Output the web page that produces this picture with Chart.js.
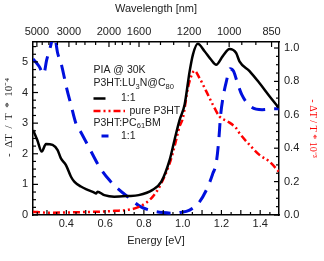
<!DOCTYPE html>
<html><head><meta charset="utf-8">
<script src="https://cdn.jsdelivr.net/npm/chart.js@4"></script>
<style>html,body{margin:0;padding:0;background:#fff;overflow:hidden}#wrap{width:324px;height:261px;position:relative}</style>
</head><body><div id="wrap"><canvas id="c" width="324" height="261"></canvas></div>
<script>
// ---- data ----
const energyTicks = [0.4, 0.6, 0.8, 1.0, 1.2, 1.4];
const leftTicks = [0, 1, 2, 3, 4, 5];
const rightTicks = [0, 0.2, 0.4, 0.6, 0.8, 1.0];
const wavelengthLabels = [5000, 3000, 2000, 1600, 1200, 1000, 850];
const wavelengthMinor = [4500, 4000, 3500, 2750, 2500, 2250, 1900, 1800, 1700, 1500, 1400, 1300, 1100, 950, 900];

const blackE = [0.228,0.25,0.273,0.295,0.329,0.355,0.372,0.398,0.424,0.441,0.475,0.51,0.544,0.553,0.561,0.596,0.647,0.716,0.773,0.845,0.89,0.933,0.958,0.984,1.010,1.036,1.053,1.078,1.113,1.147,1.173,1.207,1.242,1.276,1.293,1.345,1.396,1.448,1.496];
const blackV = [2.78,2.45,2.07,2.32,2.29,2.12,1.85,1.63,1.25,1.09,0.93,0.82,0.73,0.70,0.76,0.65,0.60,0.62,0.65,0.82,1.09,1.80,2.45,3.10,3.60,4.69,5.24,5.59,5.35,5.07,4.91,5.19,5.42,5.29,5.02,4.70,4.31,3.88,3.50];

const redE = [0.228,0.3,0.4,0.5,0.572,0.65,0.711,0.778,0.846,0.890,0.933,0.958,0.984,1.001,1.027,1.044,1.061,1.087,1.122,1.156,1.190,1.233,1.276,1.293,1.345,1.396,1.448,1.496];
const redV = [0.02,0.014,0.015,0.018,0.02,0.025,0.03,0.05,0.11,0.19,0.31,0.41,0.53,0.58,0.76,0.83,0.864,0.82,0.74,0.66,0.59,0.56,0.52,0.49,0.42,0.36,0.32,0.26];

const blueE = [0.228,0.26,0.283,0.298,0.318,0.337,0.355,0.372,0.39,0.403,0.424,0.449,0.475,0.519,0.57,0.622,0.664,0.726,0.778,0.829,0.898,0.95,0.984,1.036,1.087,1.13,1.156,1.173,1.187,1.195,1.21,1.225,1.245,1.262,1.28,1.305,1.35,1.41,1.47,1.496];
const blueV = [5.1,4.85,4.6,5.05,5.5,5.9,5.29,4.97,4.48,4.1,3.6,3.0,2.7,2.18,1.58,1.14,0.87,0.55,0.29,0.16,0.08,0.06,0.08,0.16,0.43,0.92,1.36,1.69,2.5,3.2,3.9,4.35,4.78,4.7,4.37,3.93,3.55,3.44,3.47,3.47];

const seriesLabels = ['1:1', 'pure P3HT', '1:1'];
const legendHeader = 'PIA @ 30K';
const groupA = [{t:'P3HT:LU'},{t:'3',sub:true},{t:'N@C'},{t:'80',sub:true}];
const groupB = [{t:'P3HT:PC'},{t:'61',sub:true},{t:'BM'}];

// ---- chart ----
const HC = 1239.84;
const FONT = "'Liberation Sans', Arial, Helvetica, sans-serif";
const SERIF = "'Liberation Serif', 'Times New Roman', serif";
const TEXT = '#222';
const XMIN = 0.228, XMAX = 1.497;
Chart.defaults.font.family = FONT;
Chart.defaults.color = TEXT;

const pts = (E, V) => E.map((e, i) => ({x: e, y: V[i]}));

function range(a, b, s) { const out = []; for (let v = a; v <= b + 1e-9; v += s) out.push(+v.toFixed(4)); return out; }

const tickPlugin = {
  id: 'inTicks',
  afterDraw(chart) {
    const {ctx, chartArea: a, scales} = chart;
    ctx.save();
    ctx.strokeStyle = '#000';
    ctx.lineWidth = 1.2;
    const seg = (x1, y1, x2, y2) => { ctx.beginPath(); ctx.moveTo(x1, y1); ctx.lineTo(x2, y2); ctx.stroke(); };
    const inX = (p) => p >= a.left - 0.5 && p <= a.right + 0.5;
    const inY = (p) => p >= a.top - 0.5 && p <= a.bottom + 0.5;
    range(0.25, 1.45, 0.05).forEach(v => { const p = scales.x.getPixelForValue(v); if (inX(p)) { const major = Math.abs(v*10 - Math.round(v*10)) < 1e-6; seg(p, a.bottom, p, a.bottom - (major ? 5 : 3)); } });
    wavelengthLabels.forEach(w => { const p = scales.x2.getPixelForValue(HC / w); if (inX(p)) seg(p, a.top, p, a.top + 5); });
    wavelengthMinor.forEach(w => { const p = scales.x2.getPixelForValue(HC / w); if (inX(p)) seg(p, a.top, p, a.top + 3); });
    range(0, 5.5, 0.25).forEach(v => { const p = scales.y.getPixelForValue(v); if (inY(p)) { const major = Math.abs(v - Math.round(v)) < 1e-6; seg(a.left, p, a.left + (major ? 5 : 3), p); } });
    range(0, 1.0, 0.05).forEach(v => { const p = scales.y2.getPixelForValue(v); if (inY(p)) { const major = Math.abs(v*5 - Math.round(v*5)) < 1e-6; seg(a.right, p, a.right - (major ? 5 : 3), p); } });
    ctx.restore();
  }
};

function richText(ctx, x, y, parts, size) {
  let cx = x;
  parts.forEach(p => {
    const fs = p.sub ? size * 0.72 : size;
    ctx.font = fs + 'px ' + FONT;
    ctx.fillText(p.t, cx, p.sub ? y + size * 0.3 : y);
    cx += ctx.measureText(p.t).width;
  });
}

const legendPlugin = {
  id: 'customLegend',
  afterDraw(chart) {
    const ctx = chart.ctx;
    const ds = chart.data.datasets;
    const fs = 10.5;
    ctx.save();
    ctx.fillStyle = TEXT;
    ctx.textBaseline = 'middle';
    ctx.textAlign = 'left';
    ctx.font = fs + 'px ' + FONT;
    ctx.fillText(legendHeader, 93.5, 70.5);
    richText(ctx, 93.5, 83.5, groupA, fs);
    ctx.font = fs + 'px ' + FONT;
    ctx.fillText(seriesLabels[0], 121, 98.5);
    ctx.fillText(seriesLabels[1], 129.5, 111);
    richText(ctx, 93.5, 123, groupB, fs);
    ctx.font = fs + 'px ' + FONT;
    ctx.fillText(seriesLabels[2], 121, 136);
    const sample = (d, x1, x2, y, dash) => {
      ctx.beginPath();
      ctx.strokeStyle = d.borderColor;
      ctx.lineWidth = d.borderWidth;
      ctx.setLineDash(dash || []);
      ctx.moveTo(x1, y); ctx.lineTo(x2, y); ctx.stroke();
    };
    sample(ds[0], 93.5, 105.5, 98.5);
    sample(ds[1], 93.5, 125, 111, ds[1].borderDash);
    sample(ds[2], 101.5, 108.5, 136);
    ctx.restore();
  }
};

new Chart(document.getElementById('c'), {
  type: 'line',
  data: {
    datasets: [
      {label: 'P3HT:LU3N@C80 1:1', data: pts(blackE, blackV), borderColor: '#000000', borderWidth: 2.5, xAxisID: 'x', yAxisID: 'y', pointRadius: 0, cubicInterpolationMode: 'monotone', fill: false},
      {label: 'pure P3HT', data: pts(redE, redV), borderColor: '#ff0000', borderWidth: 2.5, borderDash: [7, 3, 2, 3, 2, 3], xAxisID: 'x', yAxisID: 'y2', pointRadius: 0, cubicInterpolationMode: 'monotone', fill: false},
      {label: 'P3HT:PC61BM 1:1', data: pts(blueE, blueV), borderColor: '#0010dd', borderWidth: 3, borderDash: [14, 9], xAxisID: 'x', yAxisID: 'y', pointRadius: 0, cubicInterpolationMode: 'monotone', fill: false}
    ]
  },
  options: {
    responsive: false,
    animation: false,
    devicePixelRatio: 1,
    layout: {padding: 0},
    plugins: {legend: {display: false}, tooltip: {enabled: false}},
    scales: {
      x: {
        type: 'linear', position: 'bottom', min: XMIN, max: XMAX,
        grid: {display: false, drawTicks: false},
        border: {display: true, color: '#000', width: 1.5},
        ticks: {padding: 2, font: {size: 11}, autoSkip: false, maxRotation: 0, callback: v => v.toFixed(1)},
        afterBuildTicks: s => { s.ticks = energyTicks.map(v => ({value: v})); },
        afterFit: s => { s.height = 46; },
        title: {display: true, text: 'Energy [eV]', font: {size: 11}, padding: {top: 0, bottom: 13}}
      },
      x2: {
        type: 'linear', axis: 'x', position: 'top', min: XMIN, max: XMAX,
        grid: {display: false, drawTicks: false},
        border: {display: true, color: '#000', width: 1.5},
        ticks: {padding: 3, font: {size: 11}, autoSkip: false, maxRotation: 0, callback: v => String(Math.round(HC / v))},
        afterBuildTicks: s => { s.ticks = wavelengthLabels.map(w => ({value: HC / w})); },
        afterFit: s => { s.height = 42; },
        title: {display: true, text: 'Wavelength [nm]', font: {size: 11}, padding: {top: 2, bottom: 0}}
      },
      y: {
        type: 'linear', position: 'left', min: 0, max: 5.65,
        grid: {display: false, drawTicks: false},
        border: {display: true, color: '#000', width: 1.5},
        ticks: {padding: 5, font: {size: 11}, autoSkip: false, callback: v => String(Math.round(v))},
        afterBuildTicks: s => { s.ticks = leftTicks.map(v => ({value: v})); },
        afterFit: s => { s.width = 33; },
        title: {display: true, text: '\u2002\u2002\u2002\u2002-  ΔT  /  T  *  10⁻⁴', font: {size: 11, family: SERIF}, padding: {top: 3, bottom: 0}}
      },
      y2: {
        type: 'linear', position: 'right', min: 0, max: 1.036,
        grid: {display: false, drawTicks: false},
        border: {display: true, color: '#000', width: 1.5},
        ticks: {padding: 5, font: {size: 11}, autoSkip: false, callback: v => v.toFixed(1)},
        afterBuildTicks: s => { s.ticks = rightTicks.map(v => ({value: v})); },
        afterFit: s => { s.width = 45; },
        title: {display: true, text: '- ΔT / T * 10⁻³', color: '#ff0000', font: {size: 10, family: SERIF}, padding: {top: 5, bottom: 0}}
      }
    }
  },
  plugins: [tickPlugin, legendPlugin]
});
</script>
</body></html>
